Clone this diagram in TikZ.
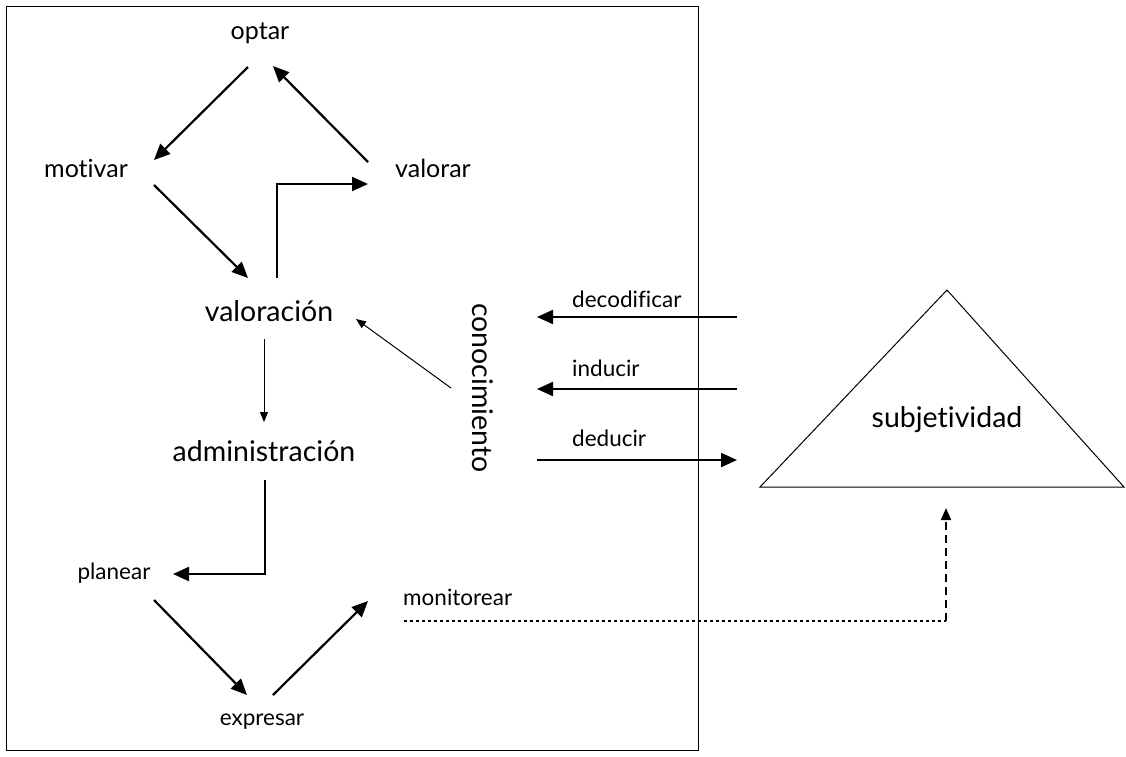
\documentclass[tikz,border=0pt]{standalone}
\usepackage{fontspec}
\setmainfont[Ligatures={NoCommon}]{Lato}
\usetikzlibrary{arrows.meta,calc}
\begin{document}
\begin{tikzpicture}[x=1pt,y=-1pt,
  top/.style={font=\fontsize{25}{29}\selectfont, inner sep=0pt},
  small/.style={font=\fontsize{22.5}{26}\selectfont, inner sep=0pt},
  big/.style={font=\fontsize{28.5}{32}\selectfont, inner sep=0pt},
  thickarr/.style={line width=2.2pt, -{Triangle[length=16pt,width=14pt]}},
  thinarr/.style={line width=1pt, -{Triangle[length=10pt,width=8pt]}},
  frame/.style={line width=1pt}]
\useasboundingbox (0,0) rectangle (1126,756);
\draw[frame] (6,6) rectangle (698,750);
% nodes
\node[top] (optar) at (260,33) {optar};
\node[top] (motivar) at (86,168) {motivar};
\node[top] (valorar) at (433,168) {valorar};
\node[big] (valoracion) at (269,311) {valoración};
\node[big] (admin) at (264,451) {administración};
\node[big, rotate=-90] (conoc) at (483,388) {conocimiento};
\node[small, anchor=west] (ldecod) at (572,299) {decodificar};
\node[small, anchor=west] (linduc) at (572,368) {inducir};
\node[small, anchor=west] (lded) at (572,438) {deducir};
\node[big] (subj) at (947,420) {subjetividad};
\node[small] (planear) at (114,573) {planear};
\node[small] (expresar) at (262,722) {expresar};
\node[small, anchor=west] (monit) at (403,597) {monitorear};
% triangle
\draw[line width=1pt] (947,290) -- (760,487) -- (1124,487) -- cycle;
% top cycle
\draw[thickarr] ($(optar)+(-12,34)$) -- ($(motivar)+(68,-8)$);
\draw[thickarr] ($(valorar)+(-65,-6)$) -- ($(optar)+(13,33)$);
\draw[thickarr] ($(motivar)+(68,17)$) -- ($(valoracion)+(-21,-33)$);
\draw[thickarr] ($(valoracion)+(8,-33)$) |- ($(valorar)+(-65,16)$);
% thin
\draw[thinarr] ($(valoracion)+(-5,28)$) -- ($(admin)+(0,-29)$);
\draw[thinarr] ($(conoc)+(-32,0)$) -- ($(valoracion)+(87,8)$);
% conocimiento <-> subjetividad
\draw[thickarr] ($(subj)+(-210,-103)$) -- ($(conoc)+(54,-71)$);
\draw[thickarr] ($(subj)+(-210,-31)$) -- ($(conoc)+(54,1)$);
\draw[thickarr] ($(conoc)+(54,72)$) -- ($(subj)+(-210,40)$);
% bottom cycle
\draw[thickarr] ($(admin)+(1,29)$) |- ($(planear)+(59,1)$);
\draw[thickarr] ($(planear)+(40,27)$) -- ($(expresar)+(-15,-27)$);
\draw[thickarr] ($(expresar)+(11,-27)$) -- ($(monit.west)+(-35,4)$);
% monitorear -> subjetividad
\coordinate (corner) at ($(subj)+(-1,201)$);
\draw[line width=2.4pt, dash pattern=on 3pt off 3pt] ($(monit.west)+(1,24)$) -- (corner);
\draw[line width=2pt, dash pattern=on 8pt off 5pt, -{Triangle[length=12pt,width=10pt]}] (corner) -- ($(subj)+(-1,88)$);
\end{tikzpicture}
\end{document}
